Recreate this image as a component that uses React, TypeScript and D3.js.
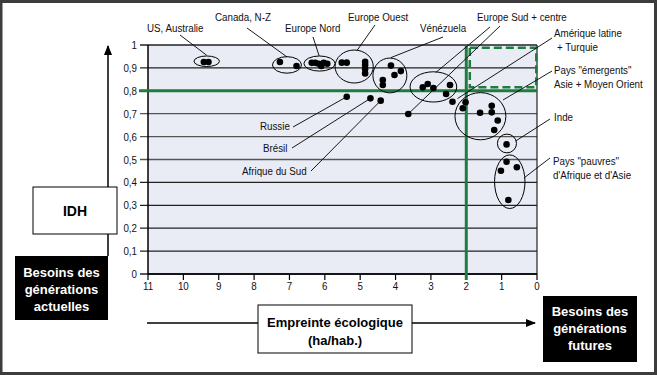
import React from "react";
import * as d3 from "d3";

// ---------- data ----------
const xTicks = [11, 10, 9, 8, 7, 6, 5, 4, 3, 2, 1, 0];
const yTicks = [0, 0.1, 0.2, 0.3, 0.4, 0.5, 0.6, 0.7, 0.8, 0.9, 1];
const yTickLabels = ["0", "0,1", "0,2", "0,3", "0,4", "0,5", "0,6", "0,7", "0,8", "0,9", "1"];

const usAustralie = [[9.42, 0.926], [9.29, 0.926]];
const canadaNZ = [[7.27, 0.926], [6.8, 0.908]];
const europeNord = [[6.37, 0.922], [6.27, 0.922], [6.17, 0.918], [6.1, 0.908], [6.03, 0.922], [5.93, 0.918]];
const europeOuest = [[5.52, 0.923], [5.38, 0.923], [4.86, 0.927], [4.86, 0.913], [4.86, 0.895], [4.86, 0.876]];
const venezuela = [[4.13, 0.91], [3.85, 0.886], [4.03, 0.869], [4.36, 0.847], [4.36, 0.825]];
const europeSud = [[3.09, 0.83], [3.23, 0.815], [2.93, 0.812], [2.46, 0.825], [2.57, 0.786]];
const europeCentre = [[3.64, 0.699]];
const russie = [[5.38, 0.774]];
const bresil = [[4.71, 0.767]];
const afriqueSud = [[4.42, 0.757]];
const ameriqueLatine = [[2.39, 0.752], [2.02, 0.75], [2.1, 0.724]];
const emergents = [[1.61, 0.704], [1.28, 0.735], [1.28, 0.706], [1.11, 0.67], [1.21, 0.629]];
const inde = [[0.86, 0.566]];
const pauvres = [[0.86, 0.49], [1.02, 0.451], [0.57, 0.466], [0.81, 0.323]];

const allPoints = [
  ...usAustralie, ...canadaNZ, ...europeNord, ...europeOuest, ...venezuela,
  ...europeSud, ...europeCentre, ...russie, ...bresil, ...afriqueSud,
  ...ameriqueLatine, ...emergents, ...inde, ...pauvres,
];

const idhThreshold = 0.8;
const footprintThreshold = 2;

// ---------- layout / annotations ----------
const W = 657;
const H = 375;
const x = d3.scaleLinear().domain([11, 0]).range([148, 537]);
const y = d3.scaleLinear().domain([0, 1]).range([274, 45]);

// group ellipses (data centre, data radii)
const ellipses = [
  { cx: 9.34, cy: 0.929, rx: 0.36, ry: 0.023 },
  { cx: 7.07, cy: 0.913, rx: 0.41, ry: 0.036 },
  { cx: 6.15, cy: 0.919, rx: 0.44, ry: 0.033 },
  { cx: 5.17, cy: 0.906, rx: 0.54, ry: 0.072 },
  { cx: 4.16, cy: 0.867, rx: 0.48, ry: 0.076 },
  { cx: 2.93, cy: 0.817, rx: 0.66, ry: 0.066 },
  { cx: 1.6, cy: 0.689, rx: 0.72, ry: 0.103 },
  { cx: 0.85, cy: 0.57, rx: 0.27, ry: 0.041 },
  { cx: 0.77, cy: 0.403, rx: 0.43, ry: 0.117 },
];

type Label = { lines: string[]; tx: number; ty: number; sx: number; sy: number; ex: number; ey: number };
const labels: Label[] = [
  { lines: ["US, Australie"], tx: 147, ty: 32, sx: 180, sy: 35, ex: 9.34, ey: 0.955 },
  { lines: ["Canada, N-Z"], tx: 215, ty: 21, sx: 247, sy: 28, ex: 7.07, ey: 0.948 },
  { lines: ["Europe Nord"], tx: 285, ty: 32, sx: 313, sy: 37, ex: 6.16, ey: 0.952 },
  { lines: ["Europe Ouest"], tx: 348, ty: 21, sx: 375, sy: 25, ex: 5.09, ey: 0.976 },
  { lines: ["Vénézuela"], tx: 420, ty: 32, sx: 443, sy: 37, ex: 4.13, ey: 0.945 },
  { lines: ["Europe Sud + centre"], tx: 477, ty: 21, sx: 490, sy: 27, ex: 2.86, ey: 0.88 },
  { lines: [], tx: 0, ty: 0, sx: 500, sy: 26, ex: europeCentre[0][0], ey: europeCentre[0][1] },
  { lines: ["Amérique latine", "+ Turquie"], tx: 554, ty: 37, sx: 552, sy: 38, ex: 2.25, ey: 0.766 },
  { lines: ["Pays \"émergents\"", "Asie + Moyen Orient"], tx: 554, ty: 74, sx: 552, sy: 71, ex: 0.96, ey: 0.76 },
  { lines: ["Inde"], tx: 554, ty: 121, sx: 550, sy: 119, ex: 0.6, ey: 0.581 },
  { lines: ["Pays \"pauvres\"", "d'Afrique et d'Asie"], tx: 553, ty: 165, sx: 550, sy: 158, ex: 0.37, ey: 0.419 },
  { lines: ["Russie"], tx: 260, ty: 130, sx: 293, sy: 127, ex: russie[0][0], ey: russie[0][1] },
  { lines: ["Brésil"], tx: 263, ty: 152, sx: 292, sy: 148, ex: bresil[0][0], ey: bresil[0][1] },
  { lines: ["Afrique du Sud"], tx: 242, ty: 175, sx: 311, sy: 171, ex: afriqueSud[0][0], ey: afriqueSud[0][1] },
];

const GREEN = "#1e7d3e";
const sans = "'Liberation Sans', Arial, sans-serif";
const SQUEEZE = 0.85;

function NText({ x: tx, y: ty, size = 11.5, anchor = "start", children }: any) {
  return (
    <text transform={`translate(${tx},${ty}) scale(${SQUEEZE},1)`} fontFamily={sans} fontSize={size}
      textAnchor={anchor} fill="#111">{children}</text>
  );
}

export default function App() {
  const [x0, x1] = x.range();
  const [yBottom, yTop] = y.range();
  return (
    <svg width={W} height={H} style={{ position: "absolute", left: 0, top: 0, background: "#fff" }}>
      <defs>
        <marker id="ah" viewBox="0 0 10 10" refX="9" refY="5" markerWidth="7" markerHeight="7" orient="auto">
          <path d="M0,1 L10,5 L0,9 z" fill="#000" />
        </marker>
      </defs>
      <rect x={0} y={0} width={W} height={H} fill="#fff" />

      {/* plot background */}
      <rect x={x0} y={yTop} width={x1 - x0} height={yBottom - yTop} fill="#e9ecf5" />

      {/* horizontal grid lines */}
      {yTicks.map((t, i) => (
        <line key={"g" + i} x1={x0 - 8} x2={x1} y1={y(t)} y2={y(t)}
          stroke={t >= 0.5 && t <= 0.7 ? "#555" : "#222"} strokeWidth={1.3} />
      ))}
      {/* axes */}
      <line x1={x0} x2={x0} y1={yTop} y2={yBottom} stroke="#000" strokeWidth={1.5} />
      <line x1={x1} x2={x1} y1={yTop} y2={yBottom} stroke="#222" strokeWidth={1.2} />
      <line x1={x0} x2={x1} y1={yBottom} y2={yBottom} stroke="#000" strokeWidth={1.5} />
      {xTicks.map((t) => (
        <g key={"xt" + t}>
          <line x1={x(t)} x2={x(t)} y1={yBottom} y2={yBottom + 6} stroke="#000" strokeWidth={1.2} />
          <NText x={x(t)} y={yBottom + 16} size={11.5} anchor="middle">{t}</NText>
        </g>
      ))}
      {yTicks.map((t, i) => (
        <NText key={"yt" + i} x={x0 - 11} y={y(t) + 4} size={11.5} anchor="end">{yTickLabels[i]}</NText>
      ))}

      {/* thresholds */}
      <line x1={x0 - 9} x2={x1} y1={y(idhThreshold)} y2={y(idhThreshold)} stroke={GREEN} strokeWidth={3} />
      <line x1={x(footprintThreshold)} x2={x(footprintThreshold)} y1={yTop} y2={yBottom + 6} stroke={GREEN} strokeWidth={3} />
      <rect x={x(1.9)} y={y(0.988)} width={x(0.02) - x(1.9)} height={y(0.815) - y(0.988)}
        fill="none" stroke={GREEN} strokeWidth={2.5} strokeDasharray="8,4" />

      {/* leader lines */}
      {labels.map((l, i) => (
        <line key={"ll" + i} x1={l.sx} y1={l.sy} x2={x(l.ex)} y2={y(l.ey)} stroke="#000" strokeWidth={0.9} />
      ))}

      {/* ellipses */}
      {ellipses.map((e, i) => (
        <ellipse key={"e" + i} cx={x(e.cx)} cy={y(e.cy)} rx={x(0) - x(e.rx)} ry={y(0) - y(e.ry)}
          fill="none" stroke="#000" strokeWidth={1} />
      ))}

      {/* points */}
      {allPoints.map((p, i) => (
        <circle key={"p" + i} cx={x(p[0])} cy={y(p[1])} r={3.3} fill="#000" />
      ))}

      {/* labels */}
      {labels.map((l, i) =>
        l.lines.map((s, j) => (
          <NText key={"lt" + i + "-" + j} x={l.tx + (j === 1 && s.startsWith("+") ? 3 : 0)} y={l.ty + j * 13.5} size={11.5}>
            {s}
          </NText>
        ))
      )}

      {/* vertical arrow */}
      <line x1={108} x2={108} y1={256} y2={46} stroke="#000" strokeWidth={1.5} markerEnd="url(#ah)" />
      <rect x={33} y={187} width={84} height={47} fill="#fff" stroke="#000" strokeWidth={1} />
      <text x={75} y={216} fontFamily={sans} fontWeight="bold" fontSize={14} textAnchor="middle">IDH</text>
      <rect x={15} y={256} width={93} height={64} fill="#000" />
      {["Besoins des", "générations", "actuelles"].map((s, i) => (
        <text key={"a" + i} x={61.5} y={276.5 + i * 17} fontFamily={sans} fontWeight="bold" fontSize={13} fill="#fff" textAnchor="middle">{s}</text>
      ))}

      {/* horizontal arrow */}
      <line x1={147} x2={535} y1={323} y2={323} stroke="#000" strokeWidth={1.5} markerEnd="url(#ah)" />
      <rect x={258} y={305} width={154} height={48} fill="#fff" stroke="#000" strokeWidth={1} />
      <text x={335} y={327} fontFamily={sans} fontWeight="bold" fontSize={13} textAnchor="middle">Empreinte écologique</text>
      <text x={335} y={345} fontFamily={sans} fontWeight="bold" fontSize={13} textAnchor="middle">(ha/hab.)</text>
      <rect x={543} y={296} width={94} height={66} fill="#000" />
      {["Besoins des", "générations", "futures"].map((s, i) => (
        <text key={"f" + i} x={590} y={316 + i * 17} fontFamily={sans} fontWeight="bold" fontSize={13} fill="#fff" textAnchor="middle">{s}</text>
      ))}

      {/* frame */}
      <rect x={1} y={1.5} width={W - 2.5} height={H - 3} fill="none" stroke="#3c3c3c" strokeWidth={3} />
    </svg>
  );
}
